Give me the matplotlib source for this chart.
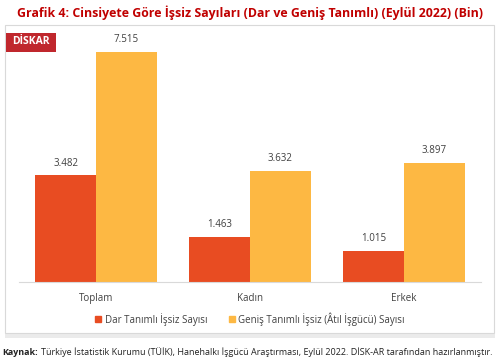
import matplotlib
matplotlib.use("Agg")
import matplotlib.pyplot as plt
from matplotlib.patches import Rectangle, Patch
import numpy as np

categories = ["Toplam", "Kadın", "Erkek"]
dar = [3482, 1463, 1015]
genis = [7515, 3632, 3897]
dar_labels = ["3.482", "1.463", "1.015"]
genis_labels = ["7.515", "3.632", "3.897"]
series_names = ["Dar Tanımlı İşsiz Sayısı", "Geniş Tanımlı İşsiz (Âtıl İşgücü) Sayısı"]

RED = "#E84C22"
ORANGE = "#FDB843"
TXT = "#404040"
FONT = ["Open Sans", "DejaVu Sans"]
plt.rcParams["font.family"] = FONT

W, H = 500, 364
fig = plt.figure(figsize=(5.0, 3.64), dpi=100)

def fx(px): return px / W
def fy(py): return 1 - py / H

# outer box with light shadow
fig.patches.append(Rectangle((fx(5), fy(338)), fx(490), (338 - 25) / H,
                             transform=fig.transFigure, facecolor="#EBEBEB", edgecolor="none", zorder=-2))
fig.patches.append(Rectangle((fx(5), fy(333)), fx(489), (333 - 25) / H,
                             transform=fig.transFigure, facecolor="white", edgecolor="#D9D9D9", lw=0.8, zorder=-1))

ax = fig.add_axes([fx(19), fy(282), fx(462), (282 - 37) / H])
ax.set_zorder(2)
x = np.arange(len(categories))
w = 0.395
b1 = ax.bar(x - w / 2, dar, w, color=RED, label=series_names[0], zorder=2)
b2 = ax.bar(x + w / 2, genis, w, color=ORANGE, label=series_names[1], zorder=2)
for rect, lab in zip(b1, dar_labels):
    ax.text(rect.get_x() + rect.get_width() / 2, rect.get_height() + 220, lab,
            ha="center", va="bottom", fontsize=7, color=TXT)
for rect, lab in zip(b2, genis_labels):
    ax.text(rect.get_x() + rect.get_width() / 2, rect.get_height() + 220, lab,
            ha="center", va="bottom", fontsize=7, color=TXT)
ax.set_xlim(-0.5, 2.5)
ax.set_ylim(0, 8000)
ax.set_yticks([])
ax.set_xticks(x)
ax.set_xticklabels(categories, fontsize=7, color=TXT)
ax.tick_params(axis="x", length=0, pad=8)
for s in ["top", "right", "left"]:
    ax.spines[s].set_visible(False)
ax.spines["bottom"].set_color("#D9D9D9")
ax.spines["bottom"].set_linewidth(0.8)
ax.patch.set_alpha(0)

handles = [Patch(color=RED), Patch(color=ORANGE)]
leg = fig.legend(handles, series_names, loc="center", bbox_to_anchor=(fx(250), fy(319)),
                 ncol=2, frameon=False, fontsize=7, handlelength=0.6, handleheight=0.6,
                 handletextpad=0.4, columnspacing=2.2, labelcolor=TXT)
leg.set_zorder(3)

fig.text(0.5, fy(13), "Grafik 4: Cinsiyete Göre İşsiz Sayıları (Dar ve Geniş Tanımlı) (Eylül 2022) (Bin)",
         ha="center", va="center", fontsize=8.9, fontweight="bold", color="#C00000")

# logo
fig.patches.append(Rectangle((fx(6), fy(52)), fx(50), 19 / H, transform=fig.transFigure,
                             facecolor="#C0272D", edgecolor="none", zorder=3))
fig.text(fx(31), fy(41), "DİSKAR", ha="center", va="center", fontsize=7.5,
         fontweight="bold", color="white", zorder=4)

k = fig.text(fx(2), fy(355), "Kaynak:", ha="left", va="baseline", fontsize=6.4,
             fontweight="bold", color="#222222")
fig.canvas.draw()
bb = k.get_window_extent(renderer=fig.canvas.get_renderer())
x_next = (bb.x1 + 3) / (fig.dpi * fig.get_figwidth())
fig.text(x_next, fy(355), "Türkiye İstatistik Kurumu (TÜİK), Hanehalkı İşgücü Araştırması, Eylül 2022. DİSK-AR tarafından hazırlanmıştır.",
         ha="left", va="baseline", fontsize=6.5, color="#222222")

fig.savefig("out.png", dpi=100)
